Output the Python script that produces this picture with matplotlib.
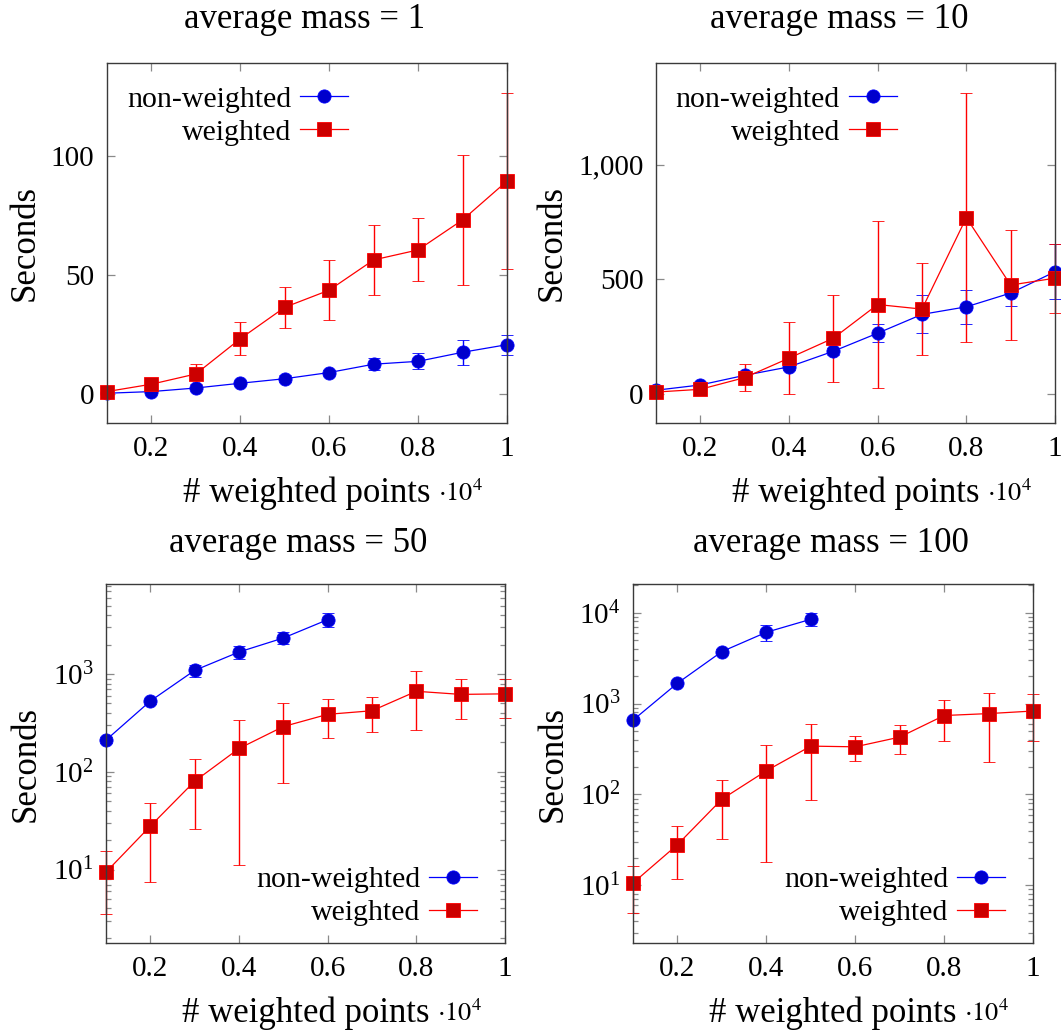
import matplotlib
matplotlib.use("Agg")
import matplotlib.pyplot as plt
from matplotlib.ticker import FuncFormatter, FixedLocator, LogLocator, LogFormatterMathtext, NullFormatter

plt.rcParams["font.family"] = ["Liberation Serif", "DejaVu Serif"]
plt.rcParams["mathtext.fontset"] = "stix"

# number of weighted points, in units of 10^4
xs = [0.1, 0.2, 0.3, 0.4, 0.5, 0.6, 0.7, 0.8, 0.9, 1.0]

# average mass = 1
nw1 = [0.3, 1.0, 2.5, 4.5, 6.4, 9.0, 12.5, 13.7, 17.5, 20.7]
nw1_err = [0.3, 0.4, 0.6, 0.8, 1.5, 1.2, 2.4, 3.4, 5.3, 4.2]
w1 = [1.0, 4.1, 8.4, 23.2, 36.4, 43.6, 56.3, 60.5, 73.1, 89.4]
w1_err = [0.5, 1.0, 4.2, 7.0, 8.7, 12.6, 14.7, 13.2, 27.2, 37.0]

# average mass = 10
nw10 = [15, 38, 80, 117, 185, 264, 346, 379, 439, 532]
nw10_err = [5, 6, 8, 12, 15, 40, 83, 75, 55, 120]
w10 = [7, 19, 70, 155, 242, 389, 369, 768, 474, 504]
w10_err = [6, 10, 60, 157, 189, 365, 200, 544, 240, 151]

# average mass = 50 (non-weighted only up to 0.6)
nw50 = [211, 529, 1090, 1680, 2337, 3600]
nw50_err = [15, 30, 158, 244, 330, 570]
w50 = [9.4, 27.8, 80, 173, 290, 387, 421, 666, 619, 627]
w50_err = [5.9, 20.4, 53.8, 162, 214, 163, 165, 399, 276, 268]

# average mass = 100 (non-weighted only up to 0.5)
nw100 = [656, 1673, 3727, 6081, 8447]
nw100_err = [30, 60, 250, 1220, 1335]
w100 = [10.6, 28, 88.6, 182, 340, 334, 427, 738, 775, 827]
w100_err = [5.6, 16.4, 56, 164, 254, 100, 151, 350, 545, 438]

titles = ["average mass = 1", "average mass = 10", "average mass = 50", "average mass = 100"]

W, H = 1061, 1033
FS = 21


def rect(l, t, r, b):
    return [l / W, 1 - b / H, (r - l) / W, (b - t) / H]


def series(ax, y_nw, e_nw, y_w, e_w):
    n = len(y_nw)
    b = ax.errorbar(xs[:n], y_nw, yerr=e_nw, color="blue", lw=0.9, marker="o", ms=9.5,
                    mfc="#0000cc", mec="blue", mew=0.6, capsize=4, elinewidth=1.0, capthick=1.0)
    r = ax.errorbar(xs, y_w, yerr=e_w, color="red", lw=0.9, marker="s", ms=9.5,
                    mfc="#cc0000", mec="red", mew=0.6, capsize=4, elinewidth=1.0, capthick=1.0)
    for c in (b, r):
        for art in c.get_children():
            art.set_clip_on(False)
    return b[0], r[0]


def style(ax):
    ax.set_xlim(0.1, 1.0)
    ax.xaxis.set_major_locator(FixedLocator([0.2, 0.4, 0.6, 0.8, 1.0]))
    ax.xaxis.set_major_formatter(FuncFormatter(lambda v, p: f"{v:g}"))
    ax.tick_params(which="both", direction="in", top=True, right=True, color="#8a8a8a",
                   width=0.9, labelsize=FS, pad=9)
    ax.tick_params(which="major", length=5.5)
    ax.tick_params(which="minor", length=3.5)
    for s in ax.spines.values():
        s.set_color("#3a3a3a")
        s.set_linewidth(1.0)
    ax.set_ylabel("Seconds", fontsize=FS + 4, labelpad=7)
    ax.set_xlabel("# weighted points", fontsize=FS + 4, labelpad=11)
    ax.text(0.885, -0.195, r"$\cdot10^{4}$", transform=ax.transAxes, fontsize=FS - 2,
            ha="center", va="center")


fig = plt.figure(figsize=(W / 100, H / 100), dpi=100)
axes = [
    fig.add_axes(rect(107, 63, 507, 423)),
    fig.add_axes(rect(656, 63, 1055, 423)),
    fig.add_axes(rect(106, 584, 505, 943)),
    fig.add_axes(rect(633, 584, 1033, 943)),
]
title_px = [(305, 19), (839, 19), (298, 544), (831, 544)]

data = [(nw1, nw1_err, w1, w1_err), (nw10, nw10_err, w10, w10_err),
        (nw50, nw50_err, w50, w50_err), (nw100, nw100_err, w100, w100_err)]
ylims = [(-12.2, 139), (-128, 1443), (1.77, 8340), (2.32, 20650)]

for i, ax in enumerate(axes):
    if i >= 2:
        ax.set_yscale("log")
    hb, hr = series(ax, *data[i])
    style(ax)
    ax.set_ylim(*ylims[i])
    if i == 0:
        ax.yaxis.set_major_locator(FixedLocator([0, 50, 100]))
    elif i == 1:
        ax.yaxis.set_major_locator(FixedLocator([0, 500, 1000]))
        ax.yaxis.set_major_formatter(FuncFormatter(lambda v, p: f"{v:,.0f}"))
    else:
        ax.yaxis.set_major_locator(LogLocator(base=10))
        ax.yaxis.set_minor_locator(LogLocator(base=10, subs=range(2, 10)))
        ax.yaxis.set_major_formatter(LogFormatterMathtext())
        ax.yaxis.set_minor_formatter(NullFormatter())
    if i < 2:
        leg = ax.legend([hb, hr], ["non-weighted", "weighted"], loc="upper right",
                        bbox_to_anchor=(0.618, 0.953), markerfirst=False, frameon=False,
                        fontsize=FS + 0.5, handlelength=1.6, handletextpad=0.3,
                        labelspacing=0.2, borderaxespad=0, borderpad=0.2)
    else:
        leg = ax.legend([hb, hr], ["non-weighted", "weighted"], loc="lower right",
                        bbox_to_anchor=(0.945, 0.03), markerfirst=False, frameon=False,
                        fontsize=FS + 0.5, handlelength=1.6, handletextpad=0.3,
                        labelspacing=0.2, borderaxespad=0, borderpad=0.2)
    tx, ty = title_px[i]
    fig.text(tx / W, 1 - ty / H, titles[i], fontsize=FS + 4, ha="center", va="center")

fig.savefig("out.png", dpi=100)
